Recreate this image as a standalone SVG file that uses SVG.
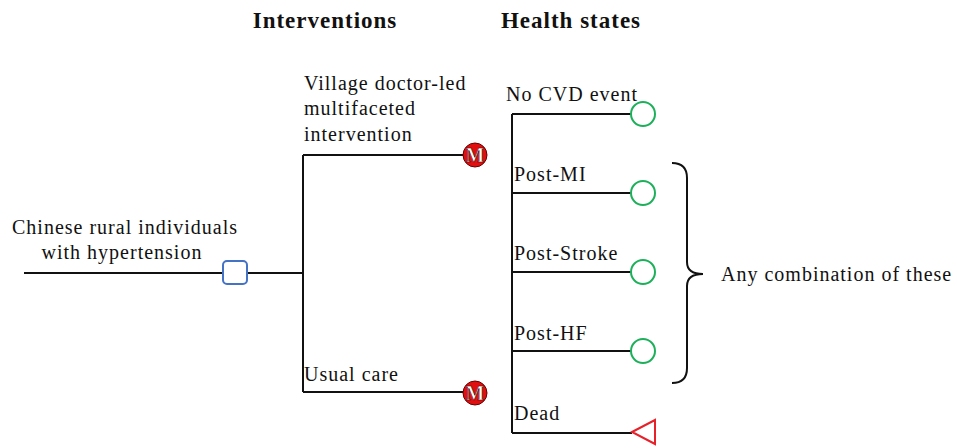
<svg xmlns="http://www.w3.org/2000/svg" width="957" height="448" viewBox="0 0 957 448">
<style>
.t{font-family:"Liberation Serif","Times New Roman",serif;font-size:20px;letter-spacing:1px;fill:#111}
.h{font-family:"Liberation Serif","Times New Roman",serif;font-size:23px;letter-spacing:1px;font-weight:bold;fill:#111}
.ln{stroke:#111;stroke-width:2;fill:none}
.st{fill:#fff;stroke:#1db05a;stroke-width:2}
.m{fill:#e01010;stroke:#6a0000;stroke-width:1}
.mt{font-family:"Liberation Serif",serif;font-size:20px;font-weight:bold;fill:#fff;stroke:#400;stroke-width:0.6;text-anchor:middle}
</style>
<rect width="957" height="448" fill="#fff"/>
<text class="h" x="325" y="28" text-anchor="middle">Interventions</text>
<text class="h" x="571" y="28" text-anchor="middle">Health states</text>
<g id="connectors">
<path class="ln" d="M24 273H223M247 273H303M303 155V392M303 155H463M303 392H463"/>
<path class="ln" d="M512 114V433M512 114H631M512 193H631M512 272H631M512 351H631M512 433H632"/>
<path class="ln" d="M672 163Q687 163 687 178V262Q687 274 703 274Q687 274 687 286V368Q687 383 672 383"/>
</g>
<g id="root">
<text class="t" x="12" y="234">Chinese rural individuals</text>
<text class="t" x="122" y="259" text-anchor="middle">with hypertension</text>
<rect x="223" y="261" width="24" height="23" rx="4" fill="#fff" stroke="#4472c4" stroke-width="2"/>
</g>
<g id="intervention">
<text class="t" x="304" y="90">Village doctor-led</text>
<text class="t" x="304" y="115">multifaceted</text>
<text class="t" x="304" y="141">intervention</text>
<circle class="m" cx="475" cy="155" r="12"/>
<text class="mt" x="475" y="162">M</text>
</g>
<g id="usual">
<text class="t" x="304" y="381">Usual care</text>
<circle class="m" cx="475" cy="393" r="12"/>
<text class="mt" x="475" y="400">M</text>
</g>
<g id="nocvd">
<text class="t" x="506" y="101">No CVD event</text>
<circle class="st" cx="643" cy="114" r="12"/>
</g>
<g id="postmi">
<text class="t" x="514" y="181">Post-MI</text>
<circle class="st" cx="643" cy="193" r="12"/>
</g>
<g id="poststroke">
<text class="t" x="514" y="260">Post-Stroke</text>
<circle class="st" cx="643" cy="272" r="12"/>
</g>
<g id="posthf">
<text class="t" x="514" y="340">Post-HF</text>
<circle class="st" cx="643" cy="351" r="12"/>
</g>
<g id="dead">
<text class="t" x="514" y="420">Dead</text>
<polygon points="632,432 655,420 655,444" fill="#fff" stroke="#e8202a" stroke-width="2"/>
</g>
<g id="combo">
<text class="t" x="721" y="281">Any combination of these</text>
</g>
</svg>
